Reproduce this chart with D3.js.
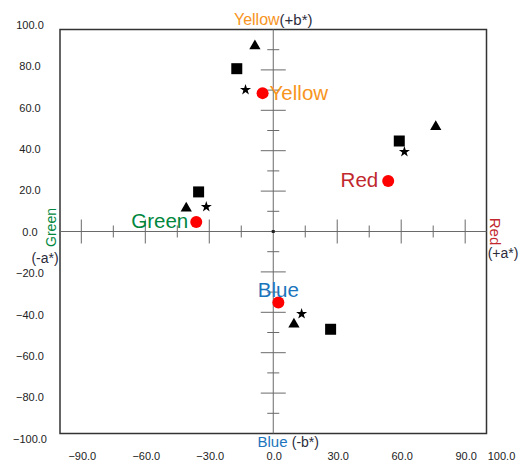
<!DOCTYPE html>
<html>
<head>
<meta charset="utf-8">
<script src="https://cdn.jsdelivr.net/npm/d3@7"></script>
<style>
  body { margin: 0; background: #fff; }
  svg text { font-family: "Liberation Sans", Arial, sans-serif; }
</style>
</head>
<body>
<div id="chart"></div>
<script>
// colour groups (a*, b*)
var groups = ["Yellow", "Red", "Green", "Blue"];
var groupColors = ["#f7941d", "#c1272d", "#00873e", "#1b75bc"];

var circleA   = [-5.0, 53.9, -36.1, 2.4];
var circleB   = [68.5, 25.0, 4.7, -35.2];
var squareA   = [-17.1, 59.1, -35.0, 26.9];
var squareB   = [80.6, 44.8, 19.6, -48.4];
var triangleA = [-8.6, 76.2, -40.8, 9.7];
var triangleB = [91.8, 51.9, 11.5, -45.9];
var starA     = [-13.0, 61.5, -31.4, 13.3];
var starB     = [70.2, 39.5, 12.2, -40.8];

var xTickLabels = [-90, -60, -30, 0, 30, 60, 90, 100];
var yTickLabels = [100, 80, 60, 40, 20, 0, -20, -40, -60, -80, -100];

var width = 527, height = 463;

var svg = d3.select("#chart").append("svg")
    .attr("width", width)
    .attr("height", height);

//
// Scales
//
var x = d3.scaleLinear().domain([-100, 100]).range([60, 486.5]);
var y = d3.scaleLinear().domain([-100, 100]).range([433.5, 29.5]);
// the y labels sit a little wider apart than the plot box
var yl = d3.scaleLinear().domain([-100, 100]).range([439, 25]);

// box
svg.append("rect")
    .attr("x", x(-100))
    .attr("y", y(100))
    .attr("width", x(100) - x(-100))
    .attr("height", y(-100) - y(100))
    .attr("fill", "none")
    .attr("stroke", "#333")
    .attr("stroke-width", 1.5);

// centre cross
svg.append("line")
    .attr("x1", x(-100)).attr("x2", x(100))
    .attr("y1", y(0)).attr("y2", y(0))
    .attr("stroke", "#6a6a6a");
svg.append("line")
    .attr("x1", x(0)).attr("x2", x(0))
    .attr("y1", y(100)).attr("y2", y(-100))
    .attr("stroke", "#6a6a6a");

// ticks on the cross
svg.append("g").selectAll("line")
    .data(d3.range(-90, 91, 15).filter(function(d) { return d != 0; }))
    .join("line")
    .attr("x1", function(d) { return x(d); })
    .attr("x2", function(d) { return x(d); })
    .attr("y1", function(d) { return y(0) - (d % 30 == 0 ? 12 : 6); })
    .attr("y2", function(d) { return y(0) + (d % 30 == 0 ? 12 : 6); })
    .attr("stroke", "#6a6a6a");

svg.append("g").selectAll("line")
    .data(d3.range(-90, 91, 10).filter(function(d) { return d != 0; }))
    .join("line")
    .attr("y1", function(d) { return y(d); })
    .attr("y2", function(d) { return y(d); })
    .attr("x1", function(d) { return x(0) - (d % 20 == 0 ? 12.5 : 6); })
    .attr("x2", function(d) { return x(0) + (d % 20 == 0 ? 12.5 : 6); })
    .attr("stroke", "#6a6a6a");

svg.append("rect")
    .attr("x", x(0) - 1.5).attr("y", y(0) - 1.5)
    .attr("width", 3).attr("height", 3)
    .attr("fill", "#222");

// tick labels
var fmt = d3.format(".1f");
svg.append("g").selectAll("text")
    .data(yTickLabels)
    .join("text")
    .attr("x", 30)
    .attr("y", function(d) { return yl(d); })
    .attr("dy", "0.35em")
    .attr("text-anchor", "middle")
    .attr("font-size", 11)
    .attr("fill", "#222")
    .text(function(d) { return fmt(d); });

svg.append("g").selectAll("text")
    .data(xTickLabels)
    .join("text")
    .attr("x", function(d) { return x(d) + (d == 100 ? 15 : 1); })
    .attr("y", 456)
    .attr("dy", "0.35em")
    .attr("text-anchor", "middle")
    .attr("font-size", 11)
    .attr("fill", "#222")
    .text(function(d) { return fmt(d); });

// axis end titles
var topTitle = svg.append("text")
    .attr("x", x(0))
    .attr("y", 25)
    .attr("text-anchor", "middle");
topTitle.append("tspan").attr("fill", groupColors[0]).attr("font-size", 16).text("Yellow");
topTitle.append("tspan").attr("fill", "#2b2b3b").attr("font-size", 15).text("(+b*)");

var bottomTitle = svg.append("text")
    .attr("x", x(0) + 15)
    .attr("y", 447)
    .attr("text-anchor", "middle");
bottomTitle.append("tspan").attr("fill", groupColors[3]).attr("font-size", 15).text("Blue ");
bottomTitle.append("tspan").attr("fill", "#2b2b3b").attr("font-size", 14).text("(-b*)");

svg.append("text")
    .attr("transform", "translate(56," + (y(0) - 4) + ") rotate(-90)")
    .attr("text-anchor", "middle")
    .attr("font-size", 14)
    .attr("fill", groupColors[2])
    .text("Green");
svg.append("text")
    .attr("x", 45)
    .attr("y", 263)
    .attr("text-anchor", "middle")
    .attr("font-size", 14)
    .attr("fill", "#2b2b3b")
    .text("(-a*)");

svg.append("text")
    .attr("transform", "translate(490," + y(0) + ") rotate(90)")
    .attr("text-anchor", "middle")
    .attr("font-size", 15)
    .attr("fill", groupColors[1])
    .text("Red");
svg.append("text")
    .attr("x", 503)
    .attr("y", 258)
    .attr("text-anchor", "middle")
    .attr("font-size", 14)
    .attr("fill", "#2b2b3b")
    .text("(+a*)");

//
// Markers
//
function addSymbols(type, size, as, bs) {
    svg.append("g").selectAll("path")
        .data(groups)
        .join("path")
        .attr("transform", function(d, i) { return "translate(" + x(as[i]) + "," + y(bs[i]) + ")"; })
        .attr("d", d3.symbol().type(type).size(size))
        .attr("fill", "#000");
}
addSymbols(d3.symbolSquare, 121, squareA, squareB);
addSymbols(d3.symbolTriangle, 55, triangleA, triangleB);
addSymbols(d3.symbolStar, 38, starA, starB);

svg.append("g").selectAll("circle")
    .data(groups)
    .join("circle")
    .attr("cx", function(d, i) { return x(circleA[i]); })
    .attr("cy", function(d, i) { return y(circleB[i]); })
    .attr("r", 6)
    .attr("fill", "#ff0000");

// group labels beside the red dots
var labelPos = [
    {dx: 7, dy: 6.5, anchor: "start"},
    {dx: -10, dy: 6, anchor: "end"},
    {dx: -8, dy: 5.5, anchor: "end"},
    {dx: 0, dy: -6, anchor: "middle"}
];
svg.append("g").selectAll("text")
    .data(groups)
    .join("text")
    .attr("x", function(d, i) { return x(circleA[i]) + labelPos[i].dx; })
    .attr("y", function(d, i) { return y(circleB[i]) + labelPos[i].dy; })
    .attr("text-anchor", function(d, i) { return labelPos[i].anchor; })
    .attr("font-size", 20.5)
    .attr("fill", function(d, i) { return groupColors[i]; })
    .text(function(d) { return d; });
</script>
</body>
</html>
